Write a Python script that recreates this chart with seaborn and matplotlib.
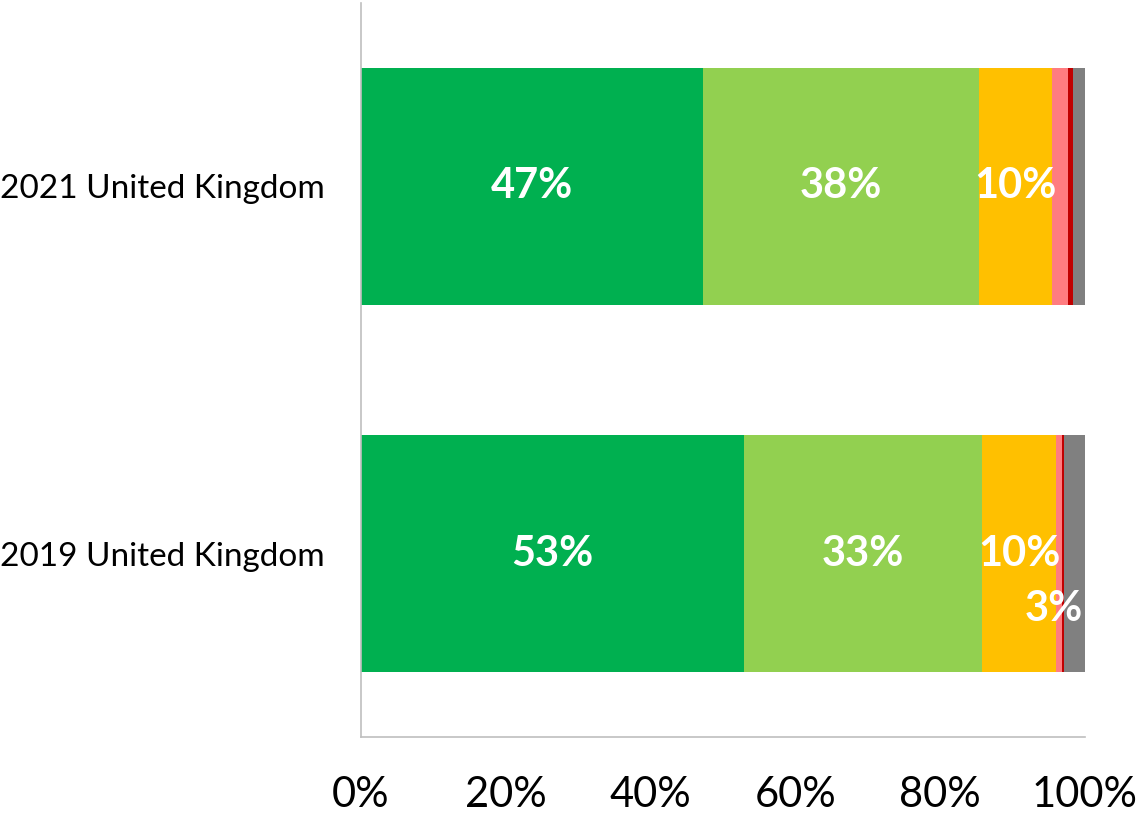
import numpy as np
import pandas as pd
import matplotlib
matplotlib.use("Agg")
import matplotlib.pyplot as plt
import seaborn as sns

categories = ["2021 United Kingdom", "2019 United Kingdom"]
series_names = ["s1", "s2", "s3", "s4", "s5", "s6"]
s1 = [47.2, 52.9]
s2 = [38.1, 32.9]
s3 = [10.2, 10.2]
s4 = [2.2, 0.8]
s5 = [0.7, 0.3]
s6 = [1.6, 2.9]
colors = ["#00B050", "#92D050", "#FFC000", "#FF7C80", "#C00000", "#808080"]
tick_vals = [0, 20, 40, 60, 80, 100]
tick_labels = ["0%", "20%", "40%", "60%", "80%", "100%"]

sns.set_theme(style="white")
plt.rcParams['font.family'] = ['Lato', 'DejaVu Sans']

series = [s1, s2, s3, s4, s5, s6]
vals = np.array(series)
cum = np.cumsum(vals, axis=0)

fig = plt.figure(figsize=(11.4, 8.22), dpi=100)
ax = fig.add_axes([361/1140, 85/822, 724/1140, 734/822])

# draw cumulative bars from the outermost to innermost (stacking via overlay)
for i in range(len(series) - 1, -1, -1):
    df = pd.DataFrame({"cat": categories, "val": cum[i]})
    sns.barplot(data=df, x="val", y="cat", color=colors[i], orient="h",
                width=0.645, ax=ax, saturation=1, linewidth=0)

ax.set_xlim(0, 100)
ax.set_ylim(1.5, -0.5)
ax.set_xticks(tick_vals)
ax.set_xticklabels(tick_labels, fontsize=30, color="black")
ax.tick_params(axis='x', pad=28, length=0)
ax.tick_params(axis='y', pad=26, length=0, labelsize=24, labelcolor="black")
ax.set_xlabel("")
ax.set_ylabel("")
for side in ["top", "right"]:
    ax.spines[side].set_visible(False)
for side in ["left", "bottom"]:
    ax.spines[side].set_color("#BFBFBF")
    ax.spines[side].set_linewidth(1.2)

# data labels
for j in range(len(categories)):
    for i in range(len(series)):
        v = vals[i, j]
        if round(v) < 3:
            continue
        left = cum[i, j] - v
        xc = left + v / 2
        if i == 5:
            ax.annotate(f"{round(v)}%", (xc, j), xytext=(-15, -40),
                        textcoords="offset points", ha="center", va="center",
                        color="white", fontsize=30, fontweight="bold")
        else:
            ax.text(xc, j, f"{round(v)}%", ha="center", va="center",
                    color="white", fontsize=30, fontweight="bold")

fig.savefig("out.png", dpi=100)
